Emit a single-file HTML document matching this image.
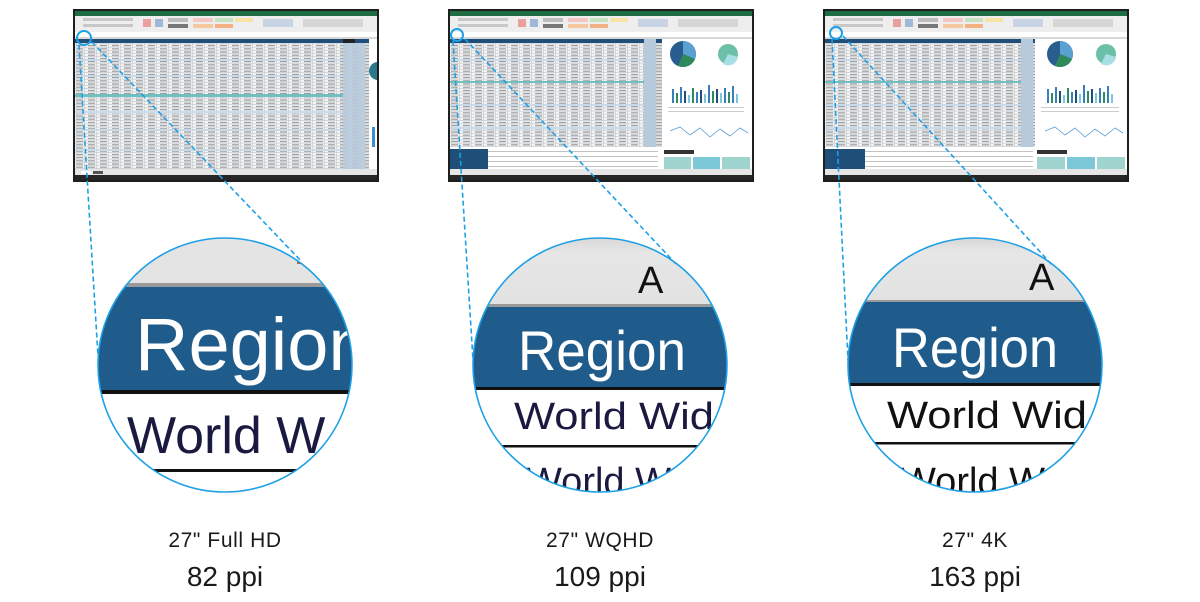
<!DOCTYPE html>
<html><head><meta charset="utf-8"><style>
html,body{margin:0;padding:0;background:#fff;}
svg{display:block;}
</style></head><body>
<svg width="1200" height="602" viewBox="0 0 1200 602" xmlns="http://www.w3.org/2000/svg" font-family="'Liberation Sans', sans-serif">
<defs>
  <pattern id="grid" x="0" y="0" width="12" height="3.2" patternUnits="userSpaceOnUse">
    <rect width="12" height="3.2" fill="#f4f4f4"/>
    <rect x="0" y="2.6" width="12" height="0.6" fill="#b9c4cf"/>
    <rect x="11.4" y="0" width="0.6" height="3.2" fill="#c4c4c4"/>
    <rect x="3" y="0.8" width="7" height="1.2" fill="#9a9a9a"/>
  </pattern>
  <clipPath id="s1"><rect x="2" y="30" width="302" height="130"/></clipPath>
  <clipPath id="c1"><circle cx="225" cy="365" r="127"/></clipPath>
  <clipPath id="c2"><circle cx="600" cy="365" r="127"/></clipPath>
  <clipPath id="c3"><circle cx="975" cy="365" r="127"/></clipPath>
  <linearGradient id="gg" x1="0" y1="0" x2="0" y2="1">
    <stop offset="0" stop-color="#cfcfcf"/><stop offset="0.3" stop-color="#e6e6e6"/><stop offset="1" stop-color="#e2e2e2"/>
  </linearGradient>
  <g id="base">
    <rect x="0" y="0" width="306" height="173" fill="#1e1e1e"/>
    <rect x="2" y="2" width="302" height="5" fill="#1f6e43"/>
    <rect x="2" y="7" width="302" height="16" fill="#eeeeee"/>
    <rect x="10" y="9" width="50" height="3" fill="#c8c8c8"/>
    <rect x="10" y="15" width="50" height="3" fill="#c8c8c8"/>
    <rect x="70" y="10" width="8" height="8" fill="#e8a0a0"/>
    <rect x="82" y="10" width="8" height="8" fill="#9fb8d8"/>
    <rect x="95" y="9" width="20" height="4" fill="#bdbdbd"/>
    <rect x="120" y="9" width="20" height="4" fill="#f4c6c6"/>
    <rect x="142" y="9" width="18" height="4" fill="#c6e2c0"/>
    <rect x="162" y="9" width="18" height="4" fill="#f7e3a6"/>
    <rect x="95" y="15" width="20" height="4" fill="#777"/>
    <rect x="120" y="15" width="20" height="4" fill="#f6c8a0"/>
    <rect x="142" y="15" width="18" height="4" fill="#f4b183"/>
    <rect x="190" y="10" width="30" height="8" fill="#c8d4e4"/>
    <rect x="230" y="10" width="60" height="8" fill="#d6d6d6"/>
    <rect x="2" y="23" width="302" height="5" fill="#fff"/>
    <rect x="2" y="28" width="302" height="2" fill="#d8d8d8"/>
    <rect x="2" y="160" width="302" height="6" fill="#e6e6e6"/>
    <rect x="2" y="166" width="302" height="5" fill="#262626"/>
  </g>
</defs>

<!-- Screen 1 -->
<g transform="translate(73,9)">
  <use href="#base"/>
  <rect x="2" y="30" width="294" height="130" fill="url(#grid)"/>
  <rect x="2" y="30" width="294" height="4" fill="#1f4e79"/>
  <rect x="270" y="30" width="12" height="4" fill="#222"/>
  <rect x="270" y="34" width="22" height="126" fill="#b7cadc" opacity="0.9"/>
  <rect x="2" y="50" width="268" height="2" fill="#c9dbea"/>
  <rect x="2" y="66" width="268" height="2" fill="#c9dbea"/>
  <rect x="2" y="85" width="268" height="3" fill="#6fc0c0"/>
  <rect x="2" y="102" width="268" height="2" fill="#c9dbea"/>
  <rect x="2" y="120" width="268" height="2" fill="#c9dbea"/>
  <rect x="2" y="140" width="268" height="2" fill="#c9dbea"/>
  <rect x="296" y="30" width="8" height="130" fill="#fff"/>
  <g clip-path="url(#s1)"><circle cx="305" cy="62" r="9" fill="#2a7a8c"/></g>
  <rect x="299" y="118" width="3" height="20" fill="#3a8fd0"/>
  <rect x="8" y="162" width="10" height="3" fill="#fff"/><rect x="20" y="162" width="10" height="3" fill="#555"/>
</g>

<!-- Screen 2 -->
<g transform="translate(448,9)">
  <use href="#base"/>
  <rect x="2" y="30" width="212" height="108" fill="url(#grid)"/>
  <rect x="2" y="30" width="212" height="4" fill="#1f4e79"/>
  <rect x="196" y="30" width="12" height="108" fill="#b7cadc"/>
  <rect x="2" y="50" width="194" height="2" fill="#c9dbea"/>
  <rect x="2" y="72" width="194" height="2" fill="#6fc0c0"/>
  <rect x="2" y="95" width="194" height="2" fill="#c9dbea"/>
  <rect x="2" y="118" width="194" height="2" fill="#c9dbea"/>
  <rect x="2" y="138" width="212" height="22" fill="#fff"/>
  <rect x="2" y="140" width="38" height="20" fill="#1f4e79"/>
  <rect x="40" y="142" width="170" height="0.6" fill="#999"/><rect x="40" y="147" width="170" height="0.6" fill="#999"/><rect x="40" y="152" width="170" height="0.6" fill="#999"/><rect x="40" y="157" width="170" height="0.6" fill="#999"/>
  <rect x="214" y="30" width="90" height="130" fill="#fff"/>
  <circle cx="235" cy="45" r="13" fill="#2a5d8f"/>
  <path d="M235 45 L235 32 A13 13 0 0 1 247 50 Z" fill="#5aa0d0"/>
  <path d="M235 45 L247 50 A13 13 0 0 1 230 57 Z" fill="#2f8a5a"/>
  <circle cx="280" cy="45" r="10" fill="#6cc0a8"/>
  <path d="M280 45 L290 48 A10 10 0 0 1 275 55 Z" fill="#a8dfe4"/>
  <g fill="#3a7dbd">
    <rect x="224" y="80" width="2" height="14"/><rect x="228" y="84" width="2" height="10" fill="#2f8a5a"/><rect x="232" y="78" width="2" height="16"/><rect x="236" y="82" width="2" height="12" fill="#1f4e79"/><rect x="240" y="86" width="2" height="8" fill="#7cc4e0"/><rect x="244" y="79" width="2" height="15" fill="#2f8a5a"/><rect x="248" y="83" width="2" height="11"/><rect x="252" y="81" width="2" height="13" fill="#1f4e79"/><rect x="256" y="85" width="2" height="9" fill="#7cc4e0"/><rect x="260" y="76" width="2" height="18"/><rect x="264" y="82" width="2" height="12" fill="#2f8a5a"/><rect x="268" y="80" width="2" height="14" fill="#1f4e79"/><rect x="272" y="84" width="2" height="10" fill="#7cc4e0"/><rect x="276" y="79" width="2" height="15"/><rect x="280" y="83" width="2" height="11" fill="#2f8a5a"/><rect x="284" y="77" width="2" height="17"/><rect x="288" y="85" width="2" height="9" fill="#7cc4e0"/>
  </g>
  <rect x="220" y="98" width="76" height="1" fill="#ccc"/><rect x="220" y="102" width="76" height="1" fill="#ccc"/>
  <polyline points="222,122 232,118 242,126 252,119 262,128 272,120 282,127 292,119 300,124" fill="none" stroke="#5a9ad8" stroke-width="0.8"/>
  <rect x="216" y="141" width="30" height="4" fill="#333"/>
  <rect x="216" y="148" width="27" height="12" fill="#9fd4cf"/>
  <rect x="245" y="148" width="27" height="12" fill="#7cc7d8"/>
  <rect x="274" y="148" width="28" height="12" fill="#9fd4cf"/>
</g>

<!-- Screen 3 -->
<g transform="translate(823,9)">
  <use href="#base"/>
  <rect x="2" y="30" width="210" height="108" fill="url(#grid)"/>
  <rect x="2" y="30" width="210" height="4" fill="#1f4e79"/>
  <rect x="198" y="30" width="12" height="108" fill="#b7cadc"/>
  <rect x="2" y="50" width="196" height="2" fill="#c9dbea"/>
  <rect x="2" y="72" width="196" height="2" fill="#6fc0c0"/>
  <rect x="2" y="95" width="196" height="2" fill="#c9dbea"/>
  <rect x="2" y="118" width="196" height="2" fill="#c9dbea"/>
  <rect x="2" y="138" width="210" height="22" fill="#fff"/>
  <rect x="2" y="140" width="40" height="20" fill="#1f4e79"/>
  <rect x="42" y="142" width="168" height="0.6" fill="#999"/><rect x="42" y="147" width="168" height="0.6" fill="#999"/><rect x="42" y="152" width="168" height="0.6" fill="#999"/><rect x="42" y="157" width="168" height="0.6" fill="#999"/>
  <rect x="212" y="30" width="92" height="130" fill="#fff"/>
  <circle cx="237" cy="45" r="13" fill="#2a5d8f"/>
  <path d="M237 45 L237 32 A13 13 0 0 1 249 50 Z" fill="#5aa0d0"/>
  <path d="M237 45 L249 50 A13 13 0 0 1 232 57 Z" fill="#2f8a5a"/>
  <circle cx="283" cy="45" r="10" fill="#6cc0a8"/>
  <path d="M283 45 L293 48 A10 10 0 0 1 278 55 Z" fill="#a8dfe4"/>
  <g fill="#3a7dbd">
    <rect x="224" y="80" width="2" height="14"/><rect x="228" y="84" width="2" height="10" fill="#2f8a5a"/><rect x="232" y="78" width="2" height="16"/><rect x="236" y="82" width="2" height="12" fill="#1f4e79"/><rect x="240" y="86" width="2" height="8" fill="#7cc4e0"/><rect x="244" y="79" width="2" height="15" fill="#2f8a5a"/><rect x="248" y="83" width="2" height="11"/><rect x="252" y="81" width="2" height="13" fill="#1f4e79"/><rect x="256" y="85" width="2" height="9" fill="#7cc4e0"/><rect x="260" y="76" width="2" height="18"/><rect x="264" y="82" width="2" height="12" fill="#2f8a5a"/><rect x="268" y="80" width="2" height="14" fill="#1f4e79"/><rect x="272" y="84" width="2" height="10" fill="#7cc4e0"/><rect x="276" y="79" width="2" height="15"/><rect x="280" y="83" width="2" height="11" fill="#2f8a5a"/><rect x="284" y="77" width="2" height="17"/><rect x="288" y="85" width="2" height="9" fill="#7cc4e0"/>
  </g>
  <rect x="218" y="98" width="78" height="1" fill="#ccc"/><rect x="218" y="102" width="78" height="1" fill="#ccc"/>
  <polyline points="222,122 232,118 242,126 252,119 262,128 272,120 282,127 292,119 300,124" fill="none" stroke="#5a9ad8" stroke-width="0.8"/>
  <rect x="214" y="141" width="30" height="4" fill="#333"/>
  <rect x="214" y="148" width="28" height="12" fill="#9fd4cf"/>
  <rect x="244" y="148" width="28" height="12" fill="#7cc7d8"/>
  <rect x="274" y="148" width="28" height="12" fill="#9fd4cf"/>
</g>

<!-- Circle 1 -->
<g clip-path="url(#c1)">
  <rect x="90" y="230" width="280" height="60" fill="#e4e4e4"/>
  <rect x="90" y="283" width="280" height="4" fill="#9a9a9a"/>
  <rect x="90" y="287" width="280" height="103" fill="#1f5c8b"/>
  <rect x="90" y="390" width="280" height="4" fill="#111"/>
  <rect x="90" y="394" width="280" height="110" fill="#fff"/>
  <rect x="90" y="469" width="280" height="3" fill="#111"/>
  <text x="135" y="370" font-size="74" fill="#fff">Region</text>
  <text x="127" y="453" font-size="52" fill="#1a1a40">World W</text>
  <rect x="297" y="260" width="6" height="4" fill="#b06a2a"/>
</g>
<circle cx="225" cy="365" r="127" fill="none" stroke="#1ea0e6" stroke-width="1.6"/>

<!-- Circle 2 -->
<g clip-path="url(#c2)">
  <rect x="465" y="230" width="280" height="76" fill="url(#gg)"/>
  <rect x="465" y="304" width="280" height="3" fill="#9a9a9a"/>
  <rect x="465" y="307" width="280" height="80" fill="#1f5c8b"/>
  <rect x="465" y="387" width="280" height="3" fill="#111"/>
  <rect x="465" y="390" width="280" height="115" fill="#fff"/>
  <rect x="465" y="445" width="280" height="2.5" fill="#111"/>
  <text x="638" y="293" font-size="38" fill="#111">A</text>
  <text x="518" y="370" font-size="56" fill="#fff" textLength="168" lengthAdjust="spacingAndGlyphs">Region</text>
  <text x="514" y="429" font-size="38" fill="#1a1a40" textLength="200" lengthAdjust="spacingAndGlyphs">World Wid</text>
  <text x="526" y="494" font-size="38" fill="#1a1a40">World W</text>
</g>
<circle cx="600" cy="365" r="127" fill="none" stroke="#1ea0e6" stroke-width="1.6"/>

<!-- Circle 3 -->
<g clip-path="url(#c3)">
  <rect x="840" y="230" width="280" height="72" fill="url(#gg)"/>
  <rect x="840" y="300" width="280" height="2" fill="#9a9a9a"/>
  <rect x="840" y="302" width="280" height="81" fill="#1f5c8b"/>
  <rect x="840" y="383" width="280" height="3" fill="#111"/>
  <rect x="840" y="386" width="280" height="120" fill="#fff"/>
  <rect x="840" y="442" width="280" height="2.5" fill="#111"/>
  <text x="1029" y="290" font-size="38" fill="#111">A</text>
  <text x="892" y="367" font-size="56" fill="#fff" textLength="166" lengthAdjust="spacingAndGlyphs">Region</text>
  <text x="887" y="428" font-size="38" fill="#111" textLength="200" lengthAdjust="spacingAndGlyphs">World Wid</text>
  <text x="900" y="494" font-size="38" fill="#111">World W</text>
</g>
<circle cx="975" cy="365" r="127" fill="none" stroke="#1ea0e6" stroke-width="1.6"/>

<!-- small circles and dashed connectors -->
<g fill="none" stroke="#1ea0e6" stroke-width="1.6">
  <circle cx="84" cy="38" r="7" stroke-width="2"/>
  <circle cx="457" cy="35" r="6" stroke-width="2"/>
  <circle cx="836" cy="33" r="6" stroke-width="2"/>
  <g stroke-dasharray="5 3">
    <line x1="79" y1="45" x2="98" y2="356"/>
    <line x1="92" y1="42" x2="302" y2="262"/>
    <line x1="453" y1="41" x2="473" y2="360"/>
    <line x1="465" y1="39" x2="676" y2="264"/>
    <line x1="832" y1="39" x2="848" y2="360"/>
    <line x1="843" y1="36" x2="1053" y2="266"/>
  </g>
</g>

<!-- labels -->
<g fill="#1a1a1a" text-anchor="middle">
  <text x="225" y="547" font-size="21" letter-spacing="0.6">27" Full HD</text>
  <text x="225" y="586" font-size="28">82 ppi</text>
  <text x="600" y="547" font-size="21" letter-spacing="0.6">27" WQHD</text>
  <text x="600" y="586" font-size="28">109 ppi</text>
  <text x="975" y="547" font-size="21" letter-spacing="0.6">27" 4K</text>
  <text x="975" y="586" font-size="28">163 ppi</text>
</g>
</svg>
</body></html>
